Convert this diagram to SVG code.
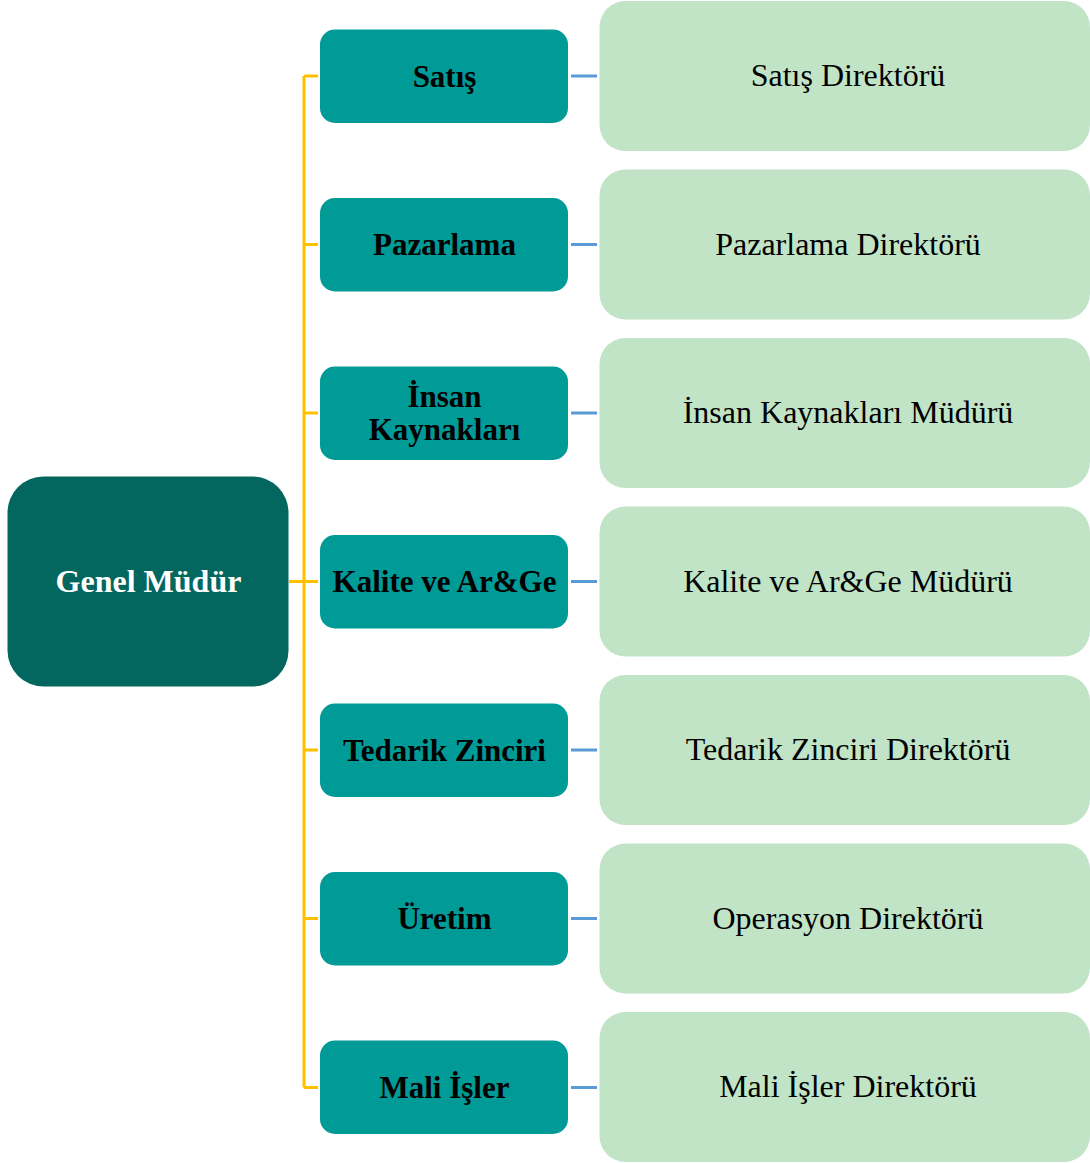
<svg xmlns="http://www.w3.org/2000/svg" width="1090" height="1163" viewBox="0 0 1090 1163">
<style>
.root{fill:#03675F}
.dept{fill:#009A97}
.role{fill:#C1E4C7}
.lt{font-family:"Liberation Serif","Times New Roman",serif;font-weight:bold;font-size:31px;fill:#000;text-anchor:middle}
.gt{font-family:"Liberation Serif","Times New Roman",serif;font-weight:bold;font-size:32px;fill:#fff;text-anchor:middle}
.rt{font-family:"Liberation Serif","Times New Roman",serif;font-size:32px;fill:#000;text-anchor:middle}
.y{stroke:#FFC000;stroke-width:3;fill:none}
.b{stroke:#5B9BD5;stroke-width:3;fill:none}
</style>
<rect width="1090" height="1163" fill="#fff"/>
<g id="connectors">
<path class="y" d="M304 76V1087.5M304 76H318M304 244.5H318M304 413H318M289 581.5H318M304 750H318M304 918.5H318M304 1087.5H318"/>
<path class="b" d="M571 76H597M571 244.5H597M571 413H597M571 581.5H597M571 750H597M571 918.5H597M571 1087.5H597"/>
</g>
<g id="genel"><rect class="root" x="7.5" y="476.5" width="281" height="210" rx="36"/><text class="gt" x="148.5" y="592">Genel Müdür</text></g>
<g id="satis"><rect class="dept" x="320" y="29.5" width="248" height="93.5" rx="15"/><text class="lt" x="444.5" y="86.5">Satış</text></g>
<g id="pazarlama"><rect class="dept" x="320" y="198" width="248" height="93.5" rx="15"/><text class="lt" x="444.5" y="255">Pazarlama</text></g>
<g id="insan"><rect class="dept" x="320" y="366.5" width="248" height="93.5" rx="15"/><text class="lt" x="444.5" y="407">İnsan</text><text class="lt" x="444.5" y="440">Kaynakları</text></g>
<g id="kalite"><rect class="dept" x="320" y="535" width="248" height="93.5" rx="15"/><text class="lt" x="444.5" y="592">Kalite ve Ar&amp;Ge</text></g>
<g id="tedarik"><rect class="dept" x="320" y="703.5" width="248" height="93.5" rx="15"/><text class="lt" x="444.5" y="760.5">Tedarik Zinciri</text></g>
<g id="uretim"><rect class="dept" x="320" y="872" width="248" height="93.5" rx="15"/><text class="lt" x="444.5" y="929">Üretim</text></g>
<g id="mali"><rect class="dept" x="320" y="1040.5" width="248" height="93.5" rx="15"/><text class="lt" x="444.5" y="1097.5">Mali İşler</text></g>
<g id="r1"><rect class="role" x="599.5" y="1" width="490.5" height="150" rx="26"/><text class="rt" x="848" y="86">Satış Direktörü</text></g>
<g id="r2"><rect class="role" x="599.5" y="169.5" width="490.5" height="150" rx="26"/><text class="rt" x="848" y="254.5">Pazarlama Direktörü</text></g>
<g id="r3"><rect class="role" x="599.5" y="338" width="490.5" height="150" rx="26"/><text class="rt" x="848" y="423">İnsan Kaynakları Müdürü</text></g>
<g id="r4"><rect class="role" x="599.5" y="506.5" width="490.5" height="150" rx="26"/><text class="rt" x="848" y="591.5">Kalite ve Ar&amp;Ge Müdürü</text></g>
<g id="r5"><rect class="role" x="599.5" y="675" width="490.5" height="150" rx="26"/><text class="rt" x="848" y="760">Tedarik Zinciri Direktörü</text></g>
<g id="r6"><rect class="role" x="599.5" y="843.5" width="490.5" height="150" rx="26"/><text class="rt" x="848" y="928.5">Operasyon Direktörü</text></g>
<g id="r7"><rect class="role" x="599.5" y="1012" width="490.5" height="150" rx="26"/><text class="rt" x="848" y="1097">Mali İşler Direktörü</text></g>
</svg>
